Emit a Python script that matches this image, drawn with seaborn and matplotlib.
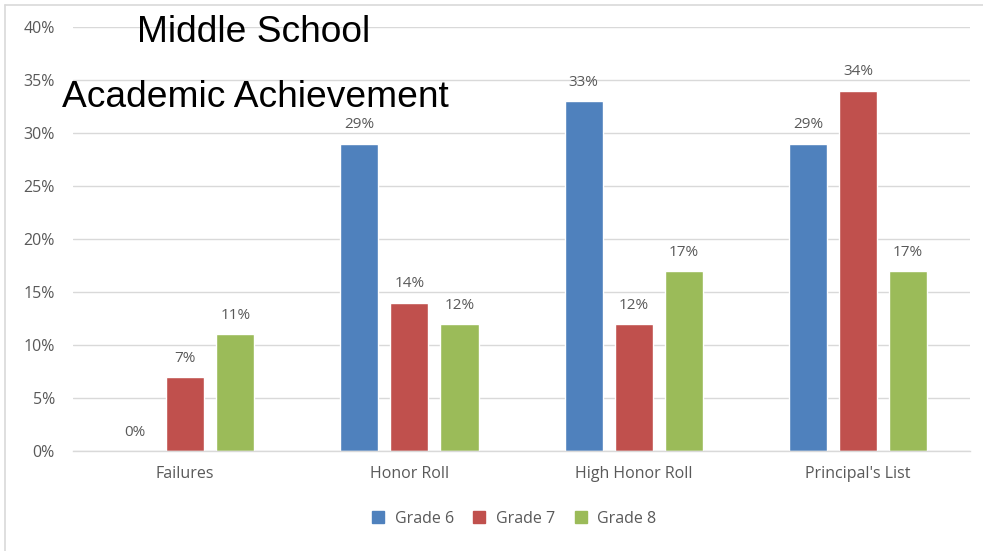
import numpy as np
import pandas as pd
import matplotlib
matplotlib.use("Agg")
import matplotlib.pyplot as plt
import seaborn as sns
from matplotlib.lines import Line2D
from matplotlib.ticker import PercentFormatter

# -----------------------------
# Data
# -----------------------------
categories = ["Failures", "Honor Roll", "High Honor Roll", "Principal's List"]
grades = ["Grade 6", "Grade 7", "Grade 8"]
grade6 = [0.00, 0.29, 0.33, 0.29]
grade7 = [0.07, 0.14, 0.12, 0.34]
grade8 = [0.11, 0.12, 0.17, 0.17]
yticks = [0, 0.05, 0.10, 0.15, 0.20, 0.25, 0.30, 0.35, 0.40]

colors = ["#4F81BD", "#C0504D", "#9BBB59"]

df = pd.DataFrame({
    "Category": categories * 3,
    "Grade": [g for g in grades for _ in categories],
    "Value": grade6 + grade7 + grade8,
})

# -----------------------------
# Plot
# -----------------------------
sns.set_style("white")
plt.rcParams["font.family"] = ["Open Sans", "DejaVu Sans"]

fig = plt.figure(figsize=(9.83, 5.51), dpi=100)
ax = fig.add_axes([0.0743, 0.1815, 0.9125, 0.7695])

sns.barplot(data=df, x="Category", y="Value", hue="Grade", order=categories,
            hue_order=grades, palette=colors, width=0.67, gap=0.24,
            saturation=1, ax=ax, legend=False)

for cont in ax.containers:
    ax.bar_label(cont, labels=[f"{v*100:.0f}%" for v in cont.datavalues],
                 padding=8, fontsize=11, color="#595959")

ax.set_ylim(0, 0.40)
ax.set_xlim(-0.5, 3.5)
ax.set_yticks(yticks)
ax.yaxis.set_major_formatter(PercentFormatter(1.0, decimals=0))
ax.grid(axis="y", color="#D9D9D9", linewidth=1)
ax.set_axisbelow(True)
for s in ["top", "right", "left"]:
    ax.spines[s].set_visible(False)
ax.spines["bottom"].set_color("#D9D9D9")
ax.spines["bottom"].set_linewidth(1)
ax.tick_params(axis="both", length=0, labelsize=11.5, colors="#595959")
ax.tick_params(axis="x", pad=11)
ax.tick_params(axis="y", pad=13)
ax.set_xlabel("")
ax.set_ylabel("")

# legend at bottom
handles = [Line2D([0], [0], marker="s", linestyle="", markersize=8,
                  markerfacecolor=c, markeredgecolor=c) for c in colors]
fig.legend(handles, grades, loc="center", bbox_to_anchor=(0.518, 0.058),
           ncol=3, frameon=False, fontsize=11.5, handletextpad=0.05,
           columnspacing=0.6, labelcolor="#595959")

# overlaid title
fig.text(137 / 983, 1 - 42 / 551, "Middle School", fontsize=26.7,
         family="Liberation Sans", color="black", va="baseline")
fig.text(62 / 983, 1 - 107 / 551, "Academic Achievement", fontsize=26.7,
         family="Liberation Sans", color="black", va="baseline")

# chart border (top and left visible)
fig.add_artist(Line2D([5 / 983, 1], [1 - 5 / 551, 1 - 5 / 551],
                      color="#D9D9D9", linewidth=1.2, transform=fig.transFigure))
fig.add_artist(Line2D([5 / 983, 5 / 983], [0, 1 - 5 / 551],
                      color="#D9D9D9", linewidth=1.2, transform=fig.transFigure))

fig.savefig("out.png", dpi=100)
plt.close(fig)
